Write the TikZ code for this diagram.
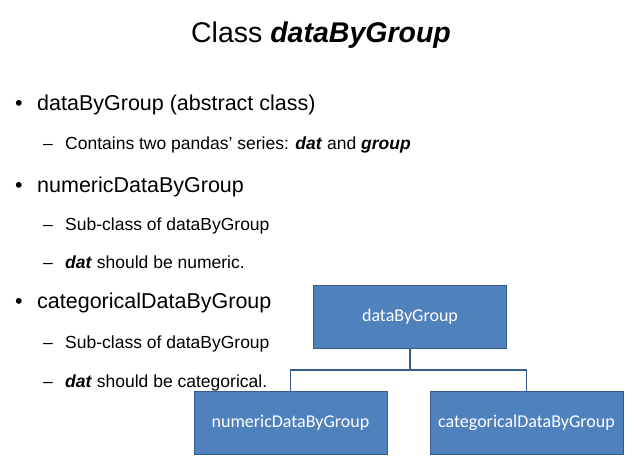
\documentclass[tikz,border=0pt]{standalone}
\usepackage{fontspec}
\setmainfont{Liberation Sans}
\newfontfamily\boxfont{Carlito}
\usetikzlibrary{positioning}
\definecolor{boxblue}{RGB}{79,129,189}
\definecolor{lineblue}{RGB}{56,93,138}
\tikzset{
  lvlone/.style={anchor=base west, inner sep=0pt, font=\fontsize{21.5}{25}\selectfont},
  lvltwo/.style={anchor=base west, inner sep=0pt, font=\fontsize{17.5}{21}\selectfont},
  classbox/.style={fill=boxblue, draw=lineblue, minimum width=193pt, minimum height=63pt, text=white, font=\boxfont\fontsize{18}{21}\selectfont},
  link/.style={draw=lineblue, line width=1.5pt}
}
\begin{document}
\begin{tikzpicture}[x=1pt,y=-1pt]
    \useasboundingbox (0,0) rectangle (634,462);
    \node (title) at (321,35) {\fontsize{28.5}{33}\selectfont Class \textbf{\textit{dataByGroup}}};

    % bullets
    \node[lvlone] (b1) at (15,111) {•};
    \node[lvlone] (t1) at (37,111) {dataByGroup (abstract class)};
    \node[lvltwo] (d1) at (43,150) {–};
    \node[lvltwo] (s1) at (65,150) {Contains two pandas’ series: \textbf{\textit{dat}} and \textbf{\textit{group}}};
    \node[lvlone] (b2) at (15,193) {•};
    \node[lvlone] (t2) at (37,193) {numericDataByGroup};
    \node[lvltwo] (d2) at (43,231) {–};
    \node[lvltwo] (s2) at (65,231) {Sub-class of dataByGroup};
    \node[lvltwo] (d3) at (43,269) {–};
    \node[lvltwo] (s3) at (65,269) {\textbf{\textit{dat}} should be numeric.};
    \node[lvlone] (b3) at (15,308) {•};
    \node[lvlone] (t3) at (37,308) {categoricalDataByGroup};
    \node[lvltwo] (d4) at (43,348) {–};
    \node[lvltwo] (s4) at (65,348) {Sub-class of dataByGroup};
    \node[lvltwo] (d5) at (43,387) {–};
    \node[lvltwo] (s5) at (65,387) {\textbf{\textit{dat}} should be categorical.};

    % class tree
    \node[classbox] (base) at (410,316.5) {dataByGroup};
    \node[classbox] (numeric) at (290.5,422.5) {numericDataByGroup};
    \node[classbox] (categorical) at (526.5,422.5) {categoricalDataByGroup};
    \coordinate (fork) at (410,370);
    \draw[link] (base.south) -- (fork);
    \draw[link] (numeric.north) |- (fork) -| (categorical.north);
\end{tikzpicture}
\end{document}
